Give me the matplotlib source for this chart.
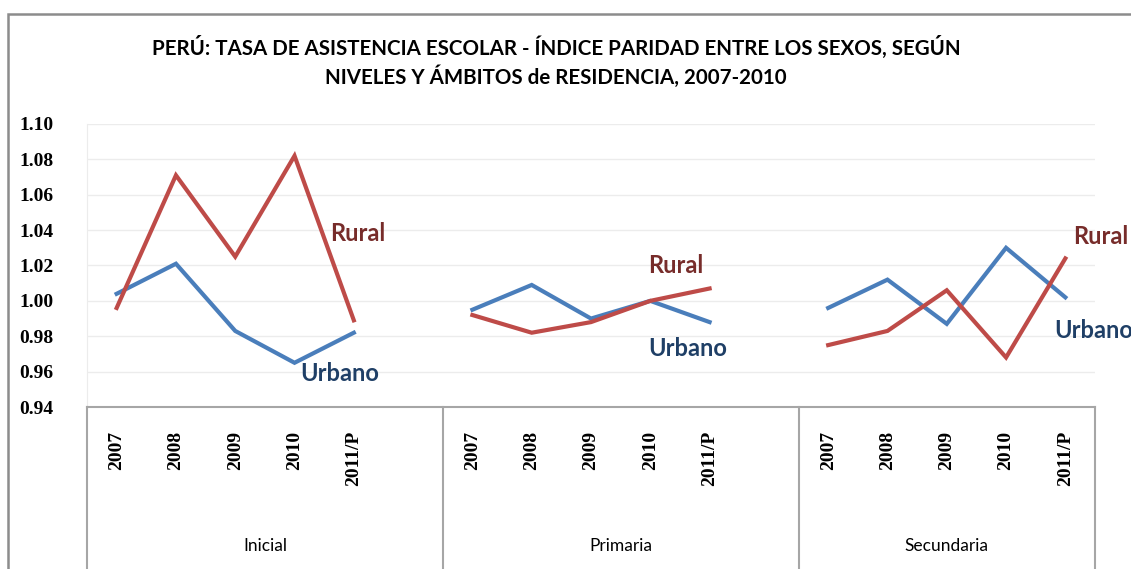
import numpy as np
import matplotlib
matplotlib.use("Agg")
from matplotlib import pyplot as plt
from matplotlib.patches import Rectangle

# %%
levels = ["Inicial", "Primaria", "Secundaria"]
years = ["2007", "2008", "2009", "2010", "2011/P"]

urbano = {
    "Inicial": [1.004, 1.021, 0.983, 0.965, 0.982],
    "Primaria": [0.995, 1.009, 0.990, 1.000, 0.988],
    "Secundaria": [0.996, 1.012, 0.987, 1.030, 1.002],
}
rural = {
    "Inicial": [0.996, 1.071, 1.025, 1.082, 0.989],
    "Primaria": [0.992, 0.982, 0.988, 1.000, 1.007],
    "Secundaria": [0.975, 0.983, 1.006, 0.968, 1.024],
}

title = ("PERÚ: TASA DE ASISTENCIA ESCOLAR - ÍNDICE PARIDAD ENTRE LOS SEXOS, SEGÚN\n"
         "NIVELES Y ÁMBITOS de RESIDENCIA, 2007-2010")

# %%
W, H = 1131, 569
fig = plt.figure(figsize=(W / 100, H / 100), dpi=100)

left, right, top, bottom = 87, 1095, 124, 407
ax = fig.add_axes([left / W, 1 - bottom / H, (right - left) / W, (bottom - top) / H])

blue = "#4a7ebb"
red = "#be4b48"
blue_txt = "#1f3f66"
red_txt = "#772c2a"
box_col = "#a6a6a6"

slot = 6  # 5 years + one blank category per level
for g, lvl in enumerate(levels):
    xs = np.arange(len(years)) + g * slot
    ax.plot(xs, urbano[lvl], color=blue, lw=3, solid_joinstyle="miter")
    ax.plot(xs, rural[lvl], color=red, lw=3, solid_joinstyle="miter")
    for k, yr in enumerate(years):
        ax.text(xs[k], -0.085, yr, rotation=90, ha="center", va="top",
                transform=ax.get_xaxis_transform(), family="Liberation Serif",
                fontweight="bold", fontsize=14)

n_slots = 2 * slot + len(years)
ax.set_xlim(-0.5, n_slots - 0.5)
ax.set_ylim(0.94, 1.10)
ax.set_yticks(np.arange(0.94, 1.101, 0.02))
ax.set_yticklabels([f"{v:.2f}" for v in np.arange(0.94, 1.101, 0.02)],
                   family="Liberation Serif", fontweight="bold", fontsize=14)
ax.tick_params(axis="y", length=0, pad=24)
ax.set_xticks([])
ax.grid(axis="y", color="#ececec", lw=1)
ax.set_axisbelow(True)
for s in ["top", "right", "bottom"]:
    ax.spines[s].set_visible(False)
ax.spines["left"].set_color("#ececec")

# category box below the plot
fig.add_artist(plt.Line2D([left / W, right / W], [1 - bottom / H] * 2,
                          color=box_col, lw=1.5))
for xb in [left, left + 6 * (right - left) / 17, left + 12 * (right - left) / 17, right]:
    fig.add_artist(plt.Line2D([xb / W, xb / W], [1 - bottom / H, 0],
                              color=box_col, lw=1.5))
for g, lvl in enumerate(levels):
    xc = g * slot + 2.5 if g < 2 else g * slot + 2
    ax.text(xc, -0.49, lvl, ha="center", va="center",
            transform=ax.get_xaxis_transform(), family="Lato", fontsize=12.5)

# series labels
lab = dict(family="Lato", fontweight="bold", fontsize=17, va="center", ha="left",
           clip_on=False)
ax.text(3.6, 1.038, "Rural", color=red_txt, **lab)
ax.text(3.09, 0.959, "Urbano", color=blue_txt, **lab)
ax.text(8.96, 1.020, "Rural", color=red_txt, **lab)
ax.text(8.96, 0.973, "Urbano", color=blue_txt, **lab)
ax.text(16.13, 1.0365, "Rural", color=red_txt, **lab)
ax.text(15.82, 0.983, "Urbano", color=blue_txt, **lab)

fig.text(556 / W, 1 - 62 / H, title, ha="center", va="center", family="Lato",
         fontweight="bold", fontsize=14.8, linespacing=1.35)

# outer chart border
fig.add_artist(Rectangle((8 / W, -0.1), 1.2, 1 - 14 / H + 0.1, transform=fig.transFigure,
                         fill=False, edgecolor="#8c8c8c", lw=1.8))

fig.savefig("out.png", dpi=100)
